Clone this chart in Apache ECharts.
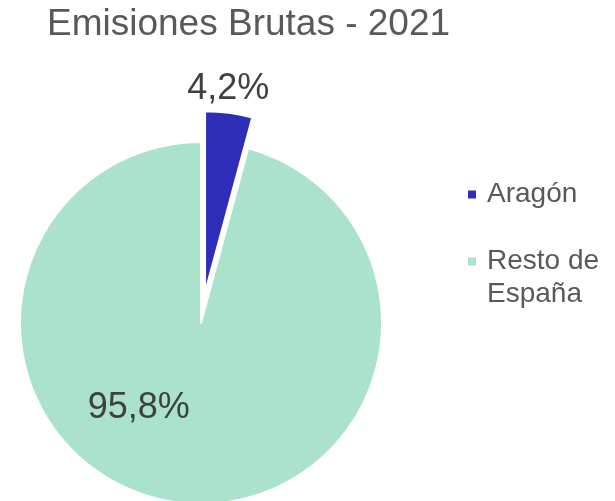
<!DOCTYPE html>
<html>
<head>
<meta charset="utf-8">
<script src="https://cdn.jsdelivr.net/npm/echarts@6/dist/echarts.min.js"></script>
<style>
  html, body { margin: 0; padding: 0; background: #fff; }
  #chart { width: 615px; height: 501px; }
</style>
</head>
<body>
<div id="chart"></div>
<script>
const categories = ['Aragón', 'Resto de España'];
const values = [4.2, 95.8];
const colors = ['#2E2EB8', '#AAE2CB'];
// leading blank line keeps the marker level with the first text line
const legendLabels = ['Aragón', '\nResto de\nEspaña'];

const FONT = '"Liberation Sans", Arial, sans-serif';

let chart = echarts.init(document.getElementById('chart'));

let pieData = categories.map((name, i) => ({
  name: name,
  value: values[i],
  selected: i === 0,
  itemStyle: { color: colors[i] },
  label: i === 0
    ? { position: 'outside' }
    : { position: 'inside' }
}));

chart.setOption({
  animation: false,
  title: {
    text: 'Emisiones Brutas - 2021',
    left: 47,
    top: 6,
    padding: 0,
    textStyle: { fontFamily: FONT, fontSize: 37, fontWeight: 'normal', color: '#595959' }
  },
  legend: {
    orient: 'vertical',
    left: 466,
    top: 178,
    padding: 0,
    itemGap: 1,
    icon: 'rect',
    itemWidth: 10,
    itemHeight: 10,
    selectedMode: false,
    formatter: name => legendLabels[categories.indexOf(name)],
    textStyle: { fontFamily: FONT, fontSize: 28, lineHeight: 33, color: '#595959', padding: [0, 0, 0, 5] },
    data: categories
  },
  series: [{
    type: 'pie',
    center: [201, 323],
    radius: 181,
    startAngle: 90,
    clockwise: true,
    selectedMode: 'single',
    selectedOffset: 31,
    avoidLabelOverlap: false,
    itemStyle: { borderColor: '#fff', borderWidth: 2 },
    label: {
      show: true,
      fontFamily: FONT,
      fontSize: 36,
      color: '#404040',
      formatter: p => p.value.toFixed(1).replace('.', ',') + '%'
    },
    labelLine: { show: false, length: 26, length2: 0 },
    labelLayout: function (params) {
      if (params.dataIndex === 0) {
        return { align: 'center', dx: -9, dy: 2 };
      }
      return { dx: -50, dy: -8 };
    },
    emphasis: { disabled: true },
    data: pieData
  }]
});
</script>
</body>
</html>
